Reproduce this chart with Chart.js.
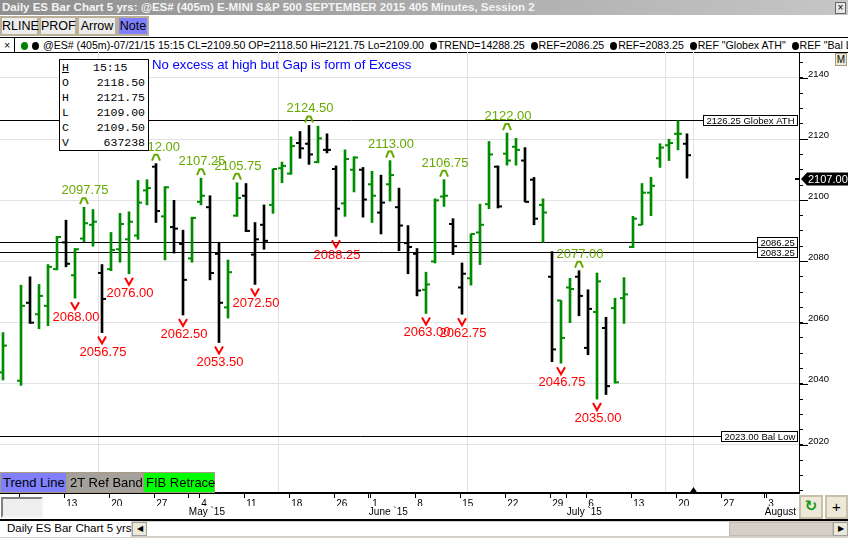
<!DOCTYPE html>
<html>
<head>
<meta charset="utf-8">
<script src="https://cdn.jsdelivr.net/npm/chart.js@4.4.1/dist/chart.umd.min.js"></script>
<style>
  html, body { margin: 0; padding: 0; background: #fff; }
  body { width: 848px; height: 538px; position: relative; overflow: hidden; font-family: "Liberation Sans", Arial, sans-serif; color: #000; }
  .abs { position: absolute; box-sizing: border-box; white-space: nowrap; }
  #title { left: 0; top: 0; width: 848px; height: 15px; background: linear-gradient(to right, #8f8f8f, #c6c6c6); color: #f4f4f4; font-weight: bold; font-size: 11.5px; line-height: 14px; padding-left: 2px; }
  #tclose { left: 835px; top: 2px; width: 11px; height: 12px; border: 1px solid #666; background: #e6e6e6; font-size: 10px; line-height: 10px; text-align: center; }
  .tb { top: 16px; height: 20px; border: 2px solid #b9b097; background: #ececec; font-size: 12.5px; line-height: 16px; text-align: center; }
  #strip { left: 0; top: 37px; width: 848px; height: 16px; border-top: 1px solid #000; border-bottom: 1px solid #000; font-size: 10.6px; line-height: 14px; overflow: hidden; }
  #sx { display: inline-block; width: 14px; border-right: 1px solid #000; text-align: center; margin-right: 6px; }
  .dot { display: inline-block; width: 7px; height: 8px; border-radius: 50%; background: #000; vertical-align: -1px; margin-right: 1px; }
  #chart { position: absolute; left: 0; top: 52px; }
  #mbtn { left: 835px; top: 53px; width: 12px; height: 13px; border: 1px solid #a89c80; background: #ece9d8; font-size: 10px; line-height: 11px; text-align: center; }
  #dbox { left: 59px; top: 59px; width: 90px; height: 92px; border: 1px solid #000; background: #fff; font-family: "Liberation Mono", monospace; font-size: 11.5px; }
  .dk { position: absolute; left: 2px; }
  .dv { position: absolute; right: 3px; }
  #note { left: 152px; top: 58px; color: #0000ff; font-size: 13.2px; line-height: 14px; }
  .bb { top: 472px; height: 21px; border: 1px solid #a89c80; font-size: 13px; line-height: 19px; padding-left: 2px; }
  #inbox { left: 1px; top: 497px; width: 42px; height: 21px; background: #eeeeee; border: 2px solid; border-color: #808080 #f4f4f4 #f4f4f4 #808080; }
  .cb { top: 495px; height: 24px; border: 2px solid #c8c0a8; background: #ece9d8; text-align: center; }
  #tabs { left: 0; top: 519px; width: 848px; height: 19px; border-top: 2px solid #000; background: #d4d0c8; }
  #tabname { left: 0; top: 521px; width: 131px; height: 16px; background: #fff; font-size: 11.5px; line-height: 15px; padding-left: 7px; }
  #sl { left: 132px; top: 522px; width: 15px; height: 14px; background: #ece9d8; border: 1px solid #a0a0a0; font-size: 8px; line-height: 12px; text-align: center; }
  #track { left: 147px; top: 522px; width: 582px; height: 14px; background: #fff; }
  #thumb { left: 729px; top: 522px; width: 104px; height: 14px; background: #d4d0c8; border: 1px solid #c0bcb4; }
  #sr { left: 833px; top: 522px; width: 15px; height: 14px; background: #ece9d8; border: 1px solid #a0a0a0; font-size: 8px; line-height: 12px; text-align: center; }
</style>
</head>
<body>
<div id="title" class="abs">Daily ES Bar Chart 5 yrs: @ES# (405m) E-MINI S&amp;P 500 SEPTEMBER 2015 405 Minutes, Session 2</div>
<div id="tclose" class="abs">×</div>
<div class="abs tb" style="left:0;width:39px">RLINE</div>
<div class="abs tb" style="left:39px;width:38px">PROF</div>
<div class="abs tb" style="left:77px;width:40px">Arrow</div>
<div class="abs tb" style="left:117px;width:32px;background:#8080ff">Note</div>
<div id="strip" class="abs"><span id="sx">×</span><span class="dot" style="background:#008000"></span> <span class="dot"></span> @ES# (405m)-07/21/15 15:15 CL=2109.50 OP=2118.50 Hi=2121.75 Lo=2109.00 &nbsp;<span class="dot"></span>TREND=14288.25 &nbsp;<span class="dot"></span>REF=2086.25 &nbsp;<span class="dot"></span>REF=2083.25 &nbsp;<span class="dot"></span>REF "Globex ATH" &nbsp;<span class="dot"></span>REF "Bal Low"</div>

<canvas id="chart" width="848" height="468"></canvas>

<div id="mbtn" class="abs">M</div>
<div id="dbox" class="abs">
  <span class="dk" style="top:1px;text-decoration:underline">H</span><span class="dk" style="top:1px;left:33px">15:15</span>
  <span class="dk" style="top:16px">O</span><span class="dv" style="top:16px">2118.50</span>
  <span class="dk" style="top:31px">H</span><span class="dv" style="top:31px">2121.75</span>
  <span class="dk" style="top:46px">L</span><span class="dv" style="top:46px">2109.00</span>
  <span class="dk" style="top:61px">C</span><span class="dv" style="top:61px">2109.50</span>
  <span class="dk" style="top:76px">V</span><span class="dv" style="top:76px">637238</span>
</div>
<div id="note" class="abs">No excess at high but Gap is form of Excess</div>

<div class="abs bb" style="left:0;width:67px;background:#8080ff">Trend Line</div>
<div class="abs bb" style="left:67px;width:76px;background:#a4a09c">2T Ref Band</div>
<div class="abs bb" style="left:143px;width:72px;background:#00ff00">FIB Retrace</div>

<div id="inbox" class="abs"></div>
<div class="abs cb" style="left:799px;width:24px;color:#129a12;font-family:'DejaVu Sans';font-size:15px;font-weight:bold;line-height:19px">↻</div>
<div class="abs cb" style="left:825px;width:23px;font-size:15px;line-height:19px">+</div>

<div id="tabs" class="abs"></div>
<div id="tabname" class="abs">Daily ES Bar Chart 5 yrs</div>
<div id="sl" class="abs">◀</div>
<div id="track" class="abs"></div>
<div id="thumb" class="abs"></div>
<div id="sr" class="abs">▶</div>

<script>
// trading-day slots (Apr 3 is Good Friday, no bar); the tail is empty future space
const dates = [
  '2015-04-02', '2015-04-03', '2015-04-06', '2015-04-07', '2015-04-08', '2015-04-09', '2015-04-10',
  '2015-04-13', '2015-04-14', '2015-04-15', '2015-04-16', '2015-04-17',
  '2015-04-20', '2015-04-21', '2015-04-22', '2015-04-23', '2015-04-24',
  '2015-04-27', '2015-04-28', '2015-04-29', '2015-04-30', '2015-05-01',
  '2015-05-04', '2015-05-05', '2015-05-06', '2015-05-07', '2015-05-08',
  '2015-05-11', '2015-05-12', '2015-05-13', '2015-05-14', '2015-05-15',
  '2015-05-18', '2015-05-19', '2015-05-20', '2015-05-21', '2015-05-22',
  '2015-05-26', '2015-05-27', '2015-05-28', '2015-05-29',
  '2015-06-01', '2015-06-02', '2015-06-03', '2015-06-04', '2015-06-05',
  '2015-06-08', '2015-06-09', '2015-06-10', '2015-06-11', '2015-06-12',
  '2015-06-15', '2015-06-16', '2015-06-17', '2015-06-18', '2015-06-19',
  '2015-06-22', '2015-06-23', '2015-06-24', '2015-06-25', '2015-06-26',
  '2015-06-29', '2015-06-30', '2015-07-01', '2015-07-02',
  '2015-07-06', '2015-07-07', '2015-07-08', '2015-07-09', '2015-07-10',
  '2015-07-13', '2015-07-14', '2015-07-15', '2015-07-16', '2015-07-17',
  '2015-07-20', '2015-07-21', '2015-07-22', '2015-07-23', '2015-07-24',
  '2015-07-27', '2015-07-28', '2015-07-29', '2015-07-30', '2015-07-31',
  '2015-08-03', '2015-08-04', '2015-08-05', '2015-08-06'
];

const opens = [
  2043.75, null, 2041.00, 2066.50, 2062.75, 2065.50, 2077.50,
  2086.25, 2075.50, 2087.50, 2092.00, 2076.25,
  2077.50, 2084.00, 2087.25, 2088.50, 2103.25,
  2111.00, 2094.75, 2091.25, 2085.75, 2081.00,
  2099.50, 2097.75, 2082.50, 2065.00, 2095.00,
  2101.50, 2082.25, 2092.00, 2098.50, 2110.50,
  2108.75, 2118.75, 2118.50, 2112.50, 2116.50,
  2110.25, 2099.00, 2110.00, 2110.00,
  2105.25, 2096.00, 2105.25, 2097.75, 2086.00,
  2082.50, 2070.75, 2080.00, 2101.25, 2092.25,
  2071.50, 2074.50, 2089.50, 2098.75, 2111.00,
  2115.25, 2117.50, 2113.00, 2106.75, 2098.50,
  2075.00, 2067.25, 2071.50, 2075.00,
  2051.75, 2063.50, 2058.25, 2064.75, 2068.00,
  2084.75, 2092.00, 2102.50, 2113.75, 2118.00,
  2121.75, 2118.50
];
const highs = [
  2056.75, null, 2072.25, 2075.00, 2072.50, 2079.00, 2088.25,
  2093.50, 2084.25, 2097.75, 2097.00, 2079.00,
  2089.50, 2095.75, 2096.25, 2106.50, 2106.75,
  2112.00, 2104.50, 2100.00, 2090.25, 2094.50,
  2107.25, 2101.50, 2086.25, 2080.50, 2105.75,
  2105.50, 2092.75, 2098.50, 2110.25, 2112.50,
  2120.75, 2122.50, 2124.50, 2124.25, 2121.75,
  2111.25, 2116.50, 2114.25, 2110.75,
  2109.50, 2108.25, 2113.00, 2104.00, 2091.75,
  2084.25, 2076.50, 2100.50, 2106.75, 2094.00,
  2079.50, 2089.00, 2098.75, 2119.25, 2111.25,
  2122.00, 2120.25, 2117.25, 2107.50, 2100.50,
  2083.25, 2067.25, 2074.50, 2077.00,
  2070.75, 2076.25, 2061.75, 2068.00, 2074.75,
  2094.75, 2105.50, 2107.50, 2118.50, 2120.00,
  2126.00, 2121.75
];
const lows = [
  2041.25, null, 2039.50, 2059.75, 2058.00, 2059.00, 2077.25,
  2078.25, 2068.00, 2086.50, 2085.00, 2056.75,
  2077.00, 2079.75, 2076.00, 2087.25, 2098.50,
  2092.75, 2080.50, 2082.75, 2062.50, 2079.75,
  2098.50, 2074.00, 2053.50, 2061.50, 2094.75,
  2089.75, 2072.50, 2084.00, 2095.75, 2105.75,
  2108.50, 2113.75, 2111.75, 2112.25, 2115.50,
  2088.25, 2094.75, 2102.75, 2094.50,
  2092.75, 2089.00, 2099.75, 2083.50, 2076.00,
  2068.75, 2063.00, 2079.50, 2098.00, 2082.25,
  2062.75, 2072.25, 2079.00, 2097.25, 2097.50,
  2111.50, 2111.50, 2099.50, 2092.00, 2086.25,
  2047.25, 2046.75, 2060.00, 2062.25,
  2049.50, 2035.00, 2036.50, 2040.25, 2059.75,
  2084.50, 2092.00, 2095.00, 2110.75, 2113.00,
  2116.50, 2107.25
];
const closes = [
  2052.50, null, 2065.50, 2060.00, 2068.75, 2078.25, 2088.00,
  2079.25, 2084.00, 2092.50, 2093.00, 2067.75,
  2083.75, 2092.25, 2093.00, 2099.25, 2104.00,
  2096.50, 2104.25, 2090.75, 2074.00, 2094.25,
  2101.50, 2076.25, 2066.50, 2076.50, 2100.75,
  2090.00, 2087.25, 2086.75, 2110.25, 2111.25,
  2117.75, 2117.00, 2115.00, 2120.25, 2116.50,
  2097.25, 2113.50, 2114.00, 2100.25,
  2101.50, 2099.25, 2108.25, 2091.75, 2084.75,
  2070.50, 2072.50, 2100.00, 2101.50, 2085.00,
  2076.00, 2089.00, 2092.00, 2115.00, 2098.00,
  2113.00, 2116.50, 2099.50, 2094.00, 2096.00,
  2051.25, 2055.00, 2071.00, 2068.75,
  2064.50, 2073.50, 2039.25, 2040.50, 2069.25,
  2094.00, 2102.50, 2104.75, 2117.25, 2118.75,
  2121.75, 2114.75
];

// swing highs / lows that carry a price note
const highMarks = [9, 17, 22, 26, 34, 43, 49, 56, 64];
const lowMarks = [8, 11, 14, 20, 24, 28, 37, 47, 51, 62, 66];

// horizontal reference levels
const refLevels = [2126.25, 2086.25, 2083.25, 2023.00];
const refNames = ['Globex ATH', '', '', 'Bal Low'];

const lastPrice = 2107.00;
const monthLabels = ['May `15', 'June `15', 'July `15', 'August'];
const yMin = 2004.3, yMax = 2148.5;

const UP = '#008c00', DOWN = '#000000';

// bar colour: up/down against the previous close
const rangeData = [], openData = [], closeData = [], barColors = [];
let prevClose = null;
closes.forEach((c, i) => {
  if (c == null) return;
  barColors.push(prevClose == null || c >= prevClose ? UP : DOWN);
  rangeData.push({ x: i, y: [lows[i], highs[i]] });
  openData.push({ x: i, y: opens[i] });
  closeData.push({ x: i, y: c });
  prevClose = c;
});

// week and month starts from the date slots
const dayOf = s => new Date(s + 'T00:00:00Z');
const weekStarts = [], monthStarts = [];
dates.forEach((d, i) => {
  if (i === 0) return;
  const cur = dayOf(d), prev = dayOf(dates[i - 1]);
  if (cur.getUTCDay() < prev.getUTCDay()) weekStarts.push(i);
  if (cur.getUTCMonth() !== prev.getUTCMonth()) monthStarts.push(i);
});
const xTicks = weekStarts.map(i => ({ value: i - 0.2, label: String(dayOf(dates[i]).getUTCDate()) }))
  .concat(monthStarts.map(i => ({ value: i - 0.35, label: '' })))
  .sort((a, b) => a.value - b.value);

const xMin = -1 / 3, xMax = xMin + 799 / 9;

// keep the plot flush with the canvas edges
const noPad = s => { s.paddingTop = 0; s.paddingBottom = 0; s.paddingLeft = 0; s.paddingRight = 0; };

const decor = {
  id: 'decor',
  beforeDatasetsDraw(chart) {
    const { ctx, chartArea: a, scales: { x, y } } = chart;
    ctx.save();
    // current-bar marker line
    const tx = Math.round(x.getPixelForValue(closes.length - 1 + 0.65)) + 0.5;
    ctx.strokeStyle = '#e2e2e2';
    ctx.lineWidth = 1;
    ctx.beginPath(); ctx.moveTo(tx, a.top); ctx.lineTo(tx, a.bottom); ctx.stroke();

    ctx.font = '9.5px "Liberation Sans"';
    ctx.textBaseline = 'middle';
    refLevels.forEach((lv, k) => {
      const py = Math.round(y.getPixelForValue(lv)) + 0.5;
      const txt = lv.toFixed(2) + (refNames[k] ? ' ' + refNames[k] : '');
      const w = Math.ceil(ctx.measureText(txt).width) + 5;
      const bx = Math.round(a.right - 2 - w) + 0.5;
      ctx.strokeStyle = '#000';
      ctx.beginPath(); ctx.moveTo(a.left, py); ctx.lineTo(bx, py); ctx.stroke();
      ctx.fillStyle = '#fff';
      ctx.fillRect(bx, py - 5, w, 10);
      ctx.strokeRect(bx, py - 5, w, 10);
      ctx.fillStyle = '#000';
      ctx.fillText(txt, bx + 3, py + 0.5);
    });
    ctx.restore();
  },
  afterDatasetsDraw(chart) {
    const { ctx, scales: { x, y } } = chart;
    ctx.save();
    ctx.font = '13px "Liberation Sans"';
    ctx.textAlign = 'center';
    ctx.textBaseline = 'alphabetic';
    ctx.lineWidth = 2;
    highMarks.forEach(i => {
      const cx = x.getPixelForValue(i), hy = y.getPixelForValue(highs[i]);
      ctx.strokeStyle = ctx.fillStyle = '#66aa00';
      ctx.beginPath();
      ctx.moveTo(cx - 4, hy - 3); ctx.lineTo(cx - 1.5, hy - 9); ctx.lineTo(cx + 1.5, hy - 9); ctx.lineTo(cx + 4, hy - 3);
      ctx.stroke();
      ctx.fillText(highs[i].toFixed(2), cx + 1, hy - 13);
    });
    lowMarks.forEach(i => {
      const cx = x.getPixelForValue(i), ly = y.getPixelForValue(lows[i]);
      ctx.strokeStyle = ctx.fillStyle = '#ff0000';
      ctx.beginPath();
      ctx.moveTo(cx - 4, ly + 4); ctx.lineTo(cx, ly + 11); ctx.lineTo(cx + 4, ly + 4);
      ctx.stroke();
      ctx.fillText(lows[i].toFixed(2), cx + 1, ly + 23);
    });
    ctx.restore();
  },
  afterDraw(chart) {
    const { ctx, chartArea: a, scales: { x, y } } = chart;
    ctx.save();
    // longer tick under each labelled price
    ctx.strokeStyle = '#000';
    ctx.lineWidth = 1;
    y.ticks.forEach(t => {
      if (t.value % 20 !== 0) return;
      const py = Math.round(y.getPixelForValue(t.value)) + 0.5;
      ctx.beginPath(); ctx.moveTo(a.right, py); ctx.lineTo(a.right + 9, py); ctx.stroke();
    });
    // last price flag
    const py = Math.round(y.getPixelForValue(lastPrice));
    ctx.lineWidth = 2;
    ctx.beginPath(); ctx.moveTo(a.right - 4, py); ctx.lineTo(a.right, py); ctx.stroke();
    ctx.fillStyle = '#000';
    ctx.beginPath();
    ctx.moveTo(a.right + 2, py);
    ctx.lineTo(a.right + 8, py - 6.5);
    ctx.lineTo(chart.width, py - 6.5);
    ctx.lineTo(chart.width, py + 6.5);
    ctx.lineTo(a.right + 8, py + 6.5);
    ctx.closePath();
    ctx.fill();
    ctx.fillStyle = '#fff';
    ctx.font = '11px "Liberation Sans"';
    ctx.textBaseline = 'middle';
    ctx.fillText(lastPrice.toFixed(2), a.right + 9, py + 0.5);
    // current bar triangle on the time axis
    const tx = Math.round(x.getPixelForValue(closes.length - 1 + 0.65)) + 0.5;
    ctx.fillStyle = '#000';
    ctx.beginPath();
    ctx.moveTo(tx - 4, a.bottom); ctx.lineTo(tx, a.bottom - 6); ctx.lineTo(tx + 4, a.bottom);
    ctx.closePath();
    ctx.fill();
    ctx.restore();
  }
};

Chart.defaults.font.family = '"Liberation Sans", Arial, sans-serif';
Chart.defaults.color = '#000';

const tickMark = { type: 'line', showLine: false, pointStyle: 'dash', pointRadius: 4, pointHoverRadius: 4,
  pointBorderWidth: 2, pointBorderColor: barColors, pointBackgroundColor: barColors };

new Chart(document.getElementById('chart'), {
  type: 'bar',
  data: {
    datasets: [
      { type: 'bar', data: rangeData, backgroundColor: barColors, barThickness: 2, borderWidth: 0, order: 2 },
      Object.assign({ data: openData, pointRotation: 180, order: 1 }, tickMark),
      Object.assign({ data: closeData, pointRotation: 0, order: 1 }, tickMark)
    ]
  },
  options: {
    responsive: false,
    animation: false,
    events: [],
    layout: { padding: 0, autoPadding: false },
    plugins: { legend: { display: false }, tooltip: { enabled: false } },
    scales: {
      x: {
        type: 'linear', position: 'bottom', min: xMin, max: xMax, offset: false,
        grid: { drawOnChartArea: false, offset: false, tickLength: 5, tickColor: '#000' },
        border: { color: '#000', width: 2 },
        ticks: { autoSkip: false, maxRotation: 0, minRotation: 0, align: 'start', padding: 0, labelOffset: 2,
          font: { size: 10 }, callback: (v, i) => xTicks[i] ? xTicks[i].label : '' },
        afterBuildTicks: s => { s.ticks = xTicks.map(t => ({ value: t.value })); },
        afterFit: s => { s.height = 13; noPad(s); }
      },
      xm: {
        type: 'linear', position: 'bottom', min: xMin, max: xMax, offset: false,
        grid: { drawOnChartArea: true, drawTicks: false, color: '#e2e2e2' },
        border: { display: false },
        ticks: { autoSkip: false, maxRotation: 0, minRotation: 0, align: 'start', padding: 0,
          font: { size: 10 }, callback: (v, i) => monthLabels[i] },
        afterBuildTicks: s => { s.ticks = monthStarts.map(i => ({ value: i - 0.35 })); },
        afterFit: s => { s.height = 14; noPad(s); }
      },
      y: {
        type: 'linear', position: 'right', min: yMin, max: yMax,
        grid: { color: c => (c.tick && c.tick.value % 20 === 0) ? '#e2e2e2' : 'rgba(0,0,0,0)', tickColor: '#000', tickLength: 4 },
        border: { color: '#000', width: 1 },
        ticks: { autoSkip: false, padding: 5, labelOffset: -4, font: { size: 9.5 },
          callback: v => v % 20 === 0 ? String(v) : '' },
        afterBuildTicks: s => {
          const t = [];
          for (let v = 2005; v <= 2145; v += 5) t.push({ value: v });
          s.ticks = t;
        },
        afterFit: s => { s.width = 49; noPad(s); }
      }
    }
  },
  plugins: [decor]
});
</script>
</body>
</html>
